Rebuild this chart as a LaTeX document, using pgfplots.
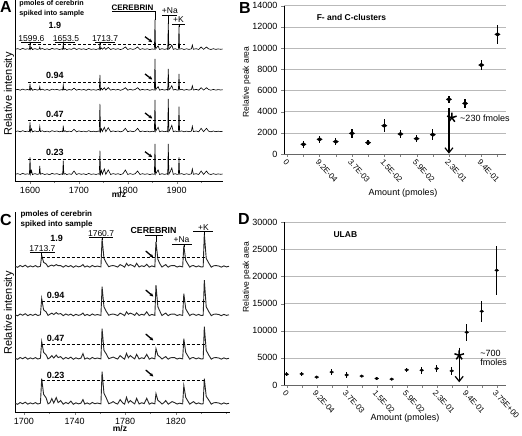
\documentclass[border=0pt]{standalone}
\usepackage{fontspec}
\setmainfont{Liberation Sans}
\usepackage{pgfplots}
\pgfplotsset{compat=1.18}
\usepackage{pgfplotstable}
\usetikzlibrary{arrows.meta}
\newcommand{\fs}[1]{\fontsize{#1}{#1}\selectfont}

% Panel A spectrum: m/z, baseline noise, peak heights for 1.9 / 0.94 / 0.47 / 0.23 pmol
\pgfplotstableread{
mz n a b c d
1570 0.8 0 0 0 0
1575 1.3 0 0 0 0
1580 0.5 0 0 0 0
1585 1.6 0 0 0 0
1590 0.7 0 0 0 0
1595 1.2 0 0 0 0
1598.8 0.6 0 0 0 0
1600 1.0 5 5.7 9 16.7
1601.2 0.8 0 0 0 0
1603 1.5 1 1 2 3
1605 0.4 0 0 0 0
1610 1.4 0 0 0 0
1615 0.6 0 0 0 0
1618.8 1.1 0 0 0 0
1620 0.9 2 3 5 8.3
1621.2 0.7 0 0 0 0
1625 1.5 0 0 0 0
1630 0.5 0 0 0 0
1635 1.2 0 0 0 0
1640 0.3 0 0 0 0
1645 1.6 0 0 0 0
1650 0.8 0 0 0 0
1655 1.3 0 0 0 0
1660 0.5 0 0 0 0
1665 1.1 0 0 0 0
1666.8 0.6 0 0 0 0
1668 1.0 5 4.7 5.6 13.3
1669.2 0.7 0 0 0 0
1672 1.5 0 0 0 0
1675 0.4 0 0 0 0
1680 1.2 0 0 0 0
1685 0.6 0 0 0 0
1690 1.0 1 1.5 2 3
1695 0.5 0 0 0 0
1700 1.4 0 0 0 0
1705 0.7 0 0 0 0
1710 1.2 0 0 0 0
1715 0.4 0 0 0 0
1720 1.6 0 0 0 0
1725 0.6 0 0 0 0
1730 1.1 0 0 0 0
1735 0.5 0 0 0 0
1740 1.3 0 0 0 0
1741.8 0.6 0 0 0 0
1743 1.0 5 14.7 27.3 23.3
1744.2 0.8 0 0 0 0
1746 1.5 0.5 1 2 3
1748 0.8 0 0 0 0
1752 1.0 1.5 2 4 5
1755 0.6 0 0 0 0
1760 1.1 1.5 2 3.5 4
1765 0.5 0 0 0 0
1770 1.4 0 0 0 0
1775 0.7 0 0 0 0
1780 1.3 0 0 0 0
1785 0.4 0 0 0 0
1790 1.2 0 0 0 0
1795 1.0 2 2 3 4
1800 0.5 0 0 0 0
1805 1.4 0 0 0 0
1810 0.6 0 0 0 0
1815 1.2 0 0 0 0
1820 1.0 2 2 3 3
1825 0.5 0 0 0 0
1830 1.3 0 0 0 0
1835 0.7 0 0 0 0
1840 1.2 0 0 0 0
1845 0.4 0 0 0 0
1850 1.1 0 0 0 0
1854.4 0.6 0 0 0 0
1855.6 1.0 29.3 30.7 31.3 30
1856.8 0.8 0 0 0 0
1859 1.4 1 1 1.5 1.5
1862 1.0 3 3 4 4
1865 0.5 0 0 0 0
1870 1.3 0 0 0 0
1875 0.6 0 0 0 0
1880 1.2 0 0 0 0
1881.6 0.6 0 0 0 0
1882.8 1.0 26 20.7 32.3 30
1884 0.8 0 0 0 0
1887 1.5 1 1 2 2
1890 1.0 4 4 6 6
1893 0.6 0 0 0 0
1897 1.3 0 0 0 0
1900 0.7 0 0 0 0
1903.5 0.6 0 0 0 0
1904.7 1.0 23.3 15.7 24.6 16.7
1905.9 0.8 0 0 0 0
1910 1.4 0 0 0 0
1915 0.5 0 0 0 0
1920 1.2 0 0 0 0
1925 0.6 0 0 0 0
1930 1.1 0 0 0 0
1932 1.0 4 4 5 5
1934 0.7 0 0 0 0
1940 1.3 0 0 0 0
1945 0.5 0 0 0 0
1950 1.0 2 2 3 3
1955 0.6 0 0 0 0
1961 1.0 2 2 3 3
1965 1.2 0 0 0 0
1970 0.5 0 0 0 0
1975 1.3 0 0 0 0
1980 0.6 0 0 0 0
1985 1.1 0 0 0 0
1990 0.7 0 0 0 0
1994 1.0 0 0 0 0
}\specA

% Panel C spectrum
\pgfplotstableread{
mz n a b c d
1693 1.2 0 0 0 0
1695 0.5 0 0 0 0
1697 1.8 0 0 0 0
1699 0.9 0 0 0 0
1701 2.0 0 0 0 0
1703 0.6 0 0 0 0
1705 1.5 0 0 0 0
1707 0.8 0 0 0 0
1709 1.7 0 0 0 0
1711 0.7 0 0 0 0
1713 1.3 0 0 0 0
1714 1.0 11.3 16.5 17 25
1715.5 1.2 4 5 6 9
1717.5 1.5 2 2.5 3 5
1719 0.8 0 0 0 0
1720.5 1.6 0 0 0 0
1722 1.0 1.5 2 3 5
1723.5 1.4 0 0 0 0
1725.5 1.0 2 2.5 3.5 6
1727 1.7 0 0 0 0
1729 1.0 1 1.5 2 3
1731 0.6 0 0 0 0
1733 1.8 0 0 0 0
1735 0.9 0 0 0 0
1737 1.0 1 1 1.5 2.5
1739 0.5 0 0 0 0
1741 1.6 0 0 0 0
1743 0.8 0 0 0 0
1745 1.3 0 0 0 0
1746.6 1.0 2 2 5 4
1748 0.7 0 0 0 0
1750 1.5 0 0 0 0
1752 0.6 0 0 0 0
1754 1.8 0 0 0 0
1756 0.9 0 0 0 0
1758 1.4 0 0 0 0
1760.8 0.8 0 0 0 0
1761.7 1.0 28 28.5 30 32
1763.2 1.2 8 8 8 10
1765 1.5 3 3 4 5
1767 0.9 0 0 0 0
1769 1.6 0 0 0 0
1770.5 1.0 1 1 1.5 2
1772 1.4 0 0 0 0
1774 0.7 0 0 0 0
1776 1.0 2 2 3 4
1778 1.5 0 0 0 0
1779.5 0.6 0 0 0 0
1781 1.2 3 3 5 6
1782.5 1.6 0 0 0 0
1784 1.0 2 2 3 3
1786 1.7 0 0 0 0
1787.5 0.8 0 0 0 0
1789 1.2 3 2 4 5
1791 0.7 0 0 0 0
1793 1.6 0 0 0 0
1795 1.0 0 0 0 0
1797 1.2 2 3 4 5
1799 0.6 0 0 0 0
1801 1.5 0 0 0 0
1803.4 0.8 0 0 0 0
1804.3 1.0 25 30 10 10
1805.8 1.2 7 8 3 3
1807.5 1.4 2 3 1 1
1809 0.7 0 0 0 0
1810.5 1.6 0 0 0 0
1812 1.0 2 2 2 3
1814 0.6 0 0 0 0
1815.5 1.5 0 0 0 0
1817 1.0 1 1 1 2
1819 1.7 0 0 0 0
1821 0.7 0 0 0 0
1823 1.3 0 0 0 0
1825.4 0.8 0 0 0 0
1826.3 1.0 21 21.5 20 18
1827.8 1.2 6 6 6 6
1829.5 1.4 2 2 2 2
1831 0.6 0 0 0 0
1832.5 1.6 0 0 0 0
1834 1.0 1 1 1 2
1836 0.8 0 0 0 0
1838 1.5 0 0 0 0
1840 0.7 0 0 0 0
1841.6 0.9 0 0 0 0
1842.5 1.0 33 35 32 25
1844 1.2 8 8 8 7
1846 1.4 3 3 3 3
1848 0.6 0 0 0 0
1850 1.6 0 0 0 0
1852 1.0 1 1 1 1
1854 1.4 0 0 0 0
1856 0.6 0 0 0 0
1858 1.5 0 0 0 0
1860 0.8 0 0 0 0
1862 1.2 0 0 0 0
}\specC

\pgfplotstableread{
x y e
1 912 300
2 1384 300
3 1164 300
4 1950 450
5 1070 250
6 2674 600
7 1887 400
8 1447 350
9 1824 500
10 5159 300
11 4781 450
12 8399 500
13 11293 900
}\ptsB

\pgfplotstableread{
x y e
0 1980 350
1 2040 350
2 1450 250
3 2380 500
4 1850 500
5 1640 250
6 1200 300
7 1080 250
8 2790 400
9 2720 650
10 3030 700
11 2600 700
12 9713 1550
13 13586 1900
14 21148 4500
}\ptsD

\tikzset{
  dashl/.style={black, line width=0.7pt, dash pattern=on 3pt off 2pt},
  sarr/.style={-{Stealth[length=3.5pt,width=3.5pt]}, line width=1.3pt},
}

\pgfplotsset{
  specax/.style={
    scale only axis, anchor=south west, clip=false,
    axis x line*=bottom, axis y line*=left, ytick=\empty,
    tick align=outside, major tick length=3pt, minor tick length=2pt,
    x tick label style={font=\fs{9}, /pgf/number format/1000 sep={}},
    /pgf/number format/assume math mode=true,
    axis line style={line width=0.8pt, -},
    every outer x axis line/.append style={-},
    every outer y axis line/.append style={-},
    scaled ticks=false,
  },
  areaax/.style={
    scale only axis, anchor=south west, clip=false,
    axis x line*=bottom, axis y line*=left,
    ymajorgrids, grid style={gray!55, line width=0.5pt},
    tick align=outside, major tick length=3pt, minor tick length=3pt,
    xticklabel style={rotate=-48, anchor=north west, font=\fs{8}, inner sep=1pt},
    yticklabel style={font=\fs{9}, /pgf/number format/1000 sep={}},
    /pgf/number format/assume math mode=true,
    scaled ticks=false,
    axis line style={-},
    every outer x axis line/.append style={-},
    every outer y axis line/.append style={-},
    x axis line style={line width=0.7pt, gray!80!black},
    y axis line style={line width=1pt},
  },
}

\begin{document}
\begin{tikzpicture}[x=1pt,y=1pt]
\path[use as bounding box] (0,0) rectangle (522,436);

%%%%%%%%%%%%%%%% Panel A
\begin{axis}[specax, at={(15pt,255pt)}, width=208pt, height=181pt,
  xmin=1569.3, xmax=1994.7, ymin=0, ymax=181,
  xtick={1600,1700,1800,1900}, minor xtick={1650,1750,1850,1950}]
\addplot[black, line width=0.6pt] table[x=mz, y expr=\thisrow{n}+\thisrow{a}+131] {\specA};
\addplot[black, line width=0.6pt] table[x=mz, y expr=\thisrow{n}+\thisrow{b}+90.3] {\specA};
\addplot[black, line width=0.6pt] table[x=mz, y expr=\thisrow{n}+\thisrow{c}+48.7] {\specA};
\addplot[black, line width=0.6pt] table[x=mz, y expr=\thisrow{n}+\thisrow{d}+6] {\specA};
\draw[dashl] (axis cs:1596,136.7) -- (axis cs:1917,136.7);
\draw[dashl] (axis cs:1596,98.7) -- (axis cs:1917,98.7);
\draw[dashl] (axis cs:1596,60.3) -- (axis cs:1917,60.3);
\draw[dashl] (axis cs:1596,21.7) -- (axis cs:1917,21.7);
\node[font=\bfseries\fs{9}] at (axis cs:1651,156) {1.9};
\node[font=\bfseries\fs{9}] at (axis cs:1651,106) {0.94};
\node[font=\bfseries\fs{9}] at (axis cs:1651,67) {0.47};
\node[font=\bfseries\fs{9}] at (axis cs:1651,28.7) {0.23};
\draw[sarr] (axis cs:1835.2,144.3) -- (axis cs:1850,138.8);
\draw[sarr] (axis cs:1835.2,107) -- (axis cs:1850,101.5);
\draw[sarr] (axis cs:1835.2,68) -- (axis cs:1850,62.5);
\draw[sarr] (axis cs:1835.2,29.3) -- (axis cs:1850,23.8);
\node[anchor=west, font=\bfseries\fs{7.2}] at (axis cs:1571,177) {pmoles of cerebrin};
\node[anchor=west, font=\bfseries\fs{7.2}] at (axis cs:1571,167) {spiked into sample};
% mass labels
\draw[line width=0.5pt] (axis cs:1582,138.5) -- (axis cs:1622,138.5) (axis cs:1600,138.5) -- (axis cs:1600,136);
\node[anchor=south, inner sep=0.8pt, font=\fs{8.5}] at (axis cs:1603,138.5) {1599.6};
\draw[line width=0.5pt] (axis cs:1652,138.5) -- (axis cs:1692,138.5) (axis cs:1668,138.5) -- (axis cs:1668,136);
\node[anchor=south, inner sep=0.8pt, font=\fs{8.5}] at (axis cs:1673.6,138.5) {1653.5};
\draw[line width=0.5pt] (axis cs:1733,138.5) -- (axis cs:1774,138.5) (axis cs:1743,138.5) -- (axis cs:1743,136);
\node[anchor=south, inner sep=0.8pt, font=\fs{8.5}] at (axis cs:1753.4,138.5) {1713.7};
\draw[line width=0.6pt] (axis cs:1767.7,169.3) -- (axis cs:1855.6,169.3) -- (axis cs:1855.6,161);
\node[anchor=south, inner sep=0.8pt, font=\bfseries\fs{8}] at (axis cs:1809.6,169.3) {CEREBRIN};
\draw[line width=0.6pt] (axis cs:1870,166) -- (axis cs:1900.6,166) (axis cs:1882.8,166) -- (axis cs:1882.8,157);
\node[anchor=south, inner sep=0.8pt, font=\fs{8.5}] at (axis cs:1886,166) {+Na};
\draw[line width=0.6pt] (axis cs:1890,157) -- (axis cs:1917,157) (axis cs:1904.7,157) -- (axis cs:1904.7,154.3);
\node[anchor=south, inner sep=0.8pt, font=\fs{8.5}] at (axis cs:1903.7,157) {+K};
\end{axis}

%%%%%%%%%%%%%%%% Panel C
\begin{axis}[specax, at={(15pt,24pt)}, width=215pt, height=200pt,
  xmin=1692.9, xmax=1862.8, ymin=0, ymax=200,
  xtick={1700,1740,1780,1820}, minor xtick={1720,1760,1800,1840,1860}]
\addplot[black!85, line width=0.9pt] table[x=mz, y expr=1.4*\thisrow{n}+\thisrow{a}+144] {\specC};
\addplot[black!85, line width=0.9pt] table[x=mz, y expr=1.4*\thisrow{n}+\thisrow{b}+95.5] {\specC};
\addplot[black!85, line width=0.9pt] table[x=mz, y expr=1.4*\thisrow{n}+\thisrow{c}+52] {\specC};
\addplot[black!85, line width=0.9pt] table[x=mz, y expr=1.4*\thisrow{n}+\thisrow{d}+7] {\specC};
\draw[dashl] (axis cs:1714,154.3) -- (axis cs:1843,154.3);
\draw[dashl] (axis cs:1714,111) -- (axis cs:1843,111);
\draw[dashl] (axis cs:1714,68) -- (axis cs:1843,68);
\draw[dashl] (axis cs:1714,31.3) -- (axis cs:1843,31.3);
\node[font=\bfseries\fs{9}] at (axis cs:1725.7,174) {1.9};
\node[font=\bfseries\fs{9}] at (axis cs:1725,117) {0.94};
\node[font=\bfseries\fs{9}] at (axis cs:1725,74) {0.47};
\node[font=\bfseries\fs{9}] at (axis cs:1725,36.3) {0.23};
\draw[sarr] (axis cs:1796.2,161) -- (axis cs:1802.2,154.5);
\draw[sarr] (axis cs:1796.2,122) -- (axis cs:1802.2,115.5);
\draw[sarr] (axis cs:1796.2,78) -- (axis cs:1802.2,71.5);
\draw[sarr] (axis cs:1796.2,42) -- (axis cs:1802.2,35.5);
\node[anchor=west, font=\bfseries\fs{8}] at (axis cs:1694.5,198) {pmoles of cerebrin};
\node[anchor=west, font=\bfseries\fs{8}] at (axis cs:1694.5,188) {spiked into sample};
\draw[line width=0.5pt] (axis cs:1704.7,159.3) -- (axis cs:1724.5,159.3) (axis cs:1714,159.3) -- (axis cs:1714,156.3);
\node[anchor=south, inner sep=0.8pt, font=\fs{8.5}] at (axis cs:1714.6,159.3) {1713.7};
\draw[line width=0.5pt] (axis cs:1751.4,174.3) -- (axis cs:1770.4,174.3) (axis cs:1761.7,174.3) -- (axis cs:1761.7,172);
\node[anchor=south, inner sep=0.8pt, font=\fs{8.5}] at (axis cs:1760.9,174.3) {1760.7};
\draw[line width=0.6pt] (axis cs:1795.7,176.3) -- (axis cs:1809.9,176.3) (axis cs:1804.3,176.3) -- (axis cs:1804.3,170);
\node[anchor=south, inner sep=1.5pt, font=\bfseries\fs{8.8}] at (axis cs:1802.4,176.3) {CEREBRIN};
\draw[line width=0.6pt] (axis cs:1817,168) -- (axis cs:1832.8,168) (axis cs:1826.3,168) -- (axis cs:1826.3,165.3);
\node[anchor=south, inner sep=0.8pt, font=\fs{8.5}] at (axis cs:1824.5,168) {+Na};
\draw[line width=0.6pt] (axis cs:1833.6,180.3) -- (axis cs:1849.4,180.3) (axis cs:1842.5,180.3) -- (axis cs:1842.5,177);
\node[anchor=south, inner sep=0.8pt, font=\fs{8.5}] at (axis cs:1841.9,180.3) {+K};
\end{axis}

%%%%%%%%%%%%%%%% Panel B
\begin{axis}[areaax, at={(284pt,282pt)}, width=221.7pt, height=148.3pt,
  xmin=-0.2, xmax=13.51, ymin=0, ymax=14000,
  ytick={0,2000,...,14000},
  xtick={0,2,...,12}, xticklabels={0,9.2E-04,3.7E-03,1.5E-02,5.9E-02,2.3E-01,9.4E-01},
  minor xtick={1,3,...,13}]
\addplot[black, only marks, mark=diamond*, mark size=2.2pt, mark options={xscale=1.6, yscale=0.8},
  error bars/.cd, y dir=both, y explicit, error mark=none, error bar style={line width=1.3pt}]
  table[x=x, y=y, y error=e] {\ptsB};
\addplot[black, only marks, mark=star, mark size=5pt, mark options={line width=1.5pt}] coordinates {(10.18,3429)};
\draw[-{Straight Barb[length=5pt,width=8pt]}, line width=1.2pt] (axis cs:10,4300) -- (axis cs:10,30);
\node[anchor=west, font=\bfseries\fs{8.5}] at (axis cs:1.61,12905) {F- and C-clusters};
\node[anchor=west, font=\fs{9}] at (axis cs:10.48,3370) {\textasciitilde230 fmoles};
\end{axis}

%%%%%%%%%%%%%%%% Panel D
\begin{axis}[areaax, at={(284pt,51pt)}, width=221.7pt, height=162.7pt,
  xmin=-0.18, xmax=14.6, ymin=0, ymax=30000,
  ytick={0,5000,...,30000},
  xtick={0,2,...,14}, xticklabels={0,9.2E-04,3.7E-03,1.5E-02,5.9E-02,2.3E-01,9.4E-01,3.75E+00},
  minor xtick={1,3,...,13}]
\addplot[black, only marks, mark=diamond*, mark size=1.6pt, mark options={xscale=1.6, yscale=0.8},
  error bars/.cd, y dir=both, y explicit, error mark=none, error bar style={line width=0.9pt}]
  table[x=x, y=y, y error=e] {\ptsD};
\addplot[black, only marks, mark=star, mark size=5pt, mark options={line width=1.5pt},
  error bars/.cd, y dir=both, y explicit, error mark=none, error bar style={line width=1pt}]
  coordinates {(11.5,5480) +- (0,1400)};
\draw[-{Straight Barb[length=5pt,width=8pt]}, line width=1.2pt] (axis cs:11.5,6900) -- (axis cs:11.5,500);
\node[anchor=west, font=\bfseries\fs{8.5}] at (axis cs:2.89,27675) {ULAB};
\node[anchor=west, align=left, font=\fs{9}] at (axis cs:12.67,5070) {\textasciitilde700\\fmoles};
\end{axis}

%%%%%%%%%%%%%%%% outer labels
\node[font=\bfseries\fs{16}] at (6pt,429pt) {A};
\node[font=\bfseries\fs{16}] at (245pt,428pt) {B};
\node[font=\bfseries\fs{16}] at (6pt,216pt) {C};
\node[font=\bfseries\fs{16}] at (244pt,217pt) {D};
\node[rotate=90, font=\fs{11}] at (9pt,342pt) {Relative intensity};
\node[rotate=90, font=\fs{11}] at (9pt,123pt) {Relative intensity};
\node[rotate=90, font=\fs{8.5}] at (246.7pt,354pt) {Relative peak area};
\node[rotate=90, font=\fs{8.5}] at (246.7pt,159pt) {Relative peak area};
\node[font=\bfseries\fs{8.5}] at (119pt,241pt) {m/z};
\node[font=\bfseries\fs{8.5}] at (120pt,7pt) {m/z};
\node[font=\fs{9}] at (403pt,243.3pt) {Amount (pmoles)};
\node[font=\fs{9}] at (405pt,18pt) {Amount (pmoles)};
\end{tikzpicture}
\end{document}
